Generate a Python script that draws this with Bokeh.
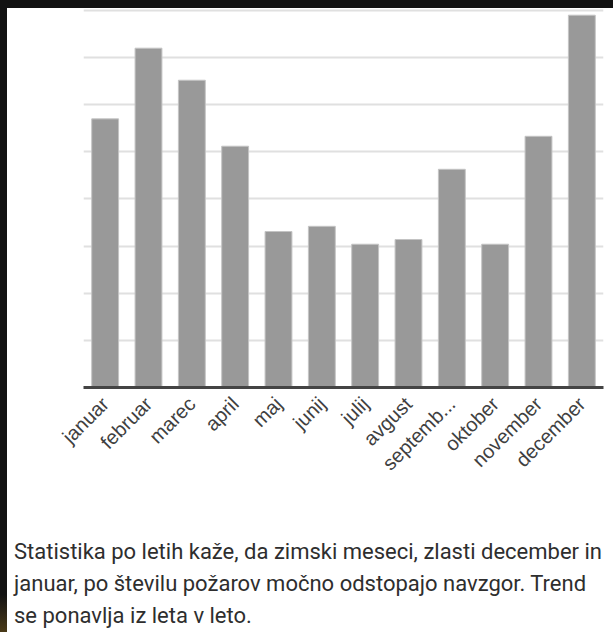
import math
from bokeh.plotting import figure
from bokeh.models import Div, FactorRange, Range1d, FixedTicker
from bokeh.layouts import column, row
from bokeh.embed import file_html
from bokeh.resources import INLINE

# ---- data ----
months = ["januar", "februar", "marec", "april", "maj", "junij",
          "julij", "avgust", "september", "oktober", "november", "december"]
tick_labels = ["januar", "februar", "marec", "april", "maj", "junij",
               "julij", "avgust", "septemb...", "oktober", "november", "december"]
fires = [57, 72, 65.2, 51.2, 33.1, 34.2, 30.4, 31.4, 46.3, 30.4, 53.3, 79]
grid_ticks = [0, 10, 20, 30, 40, 50, 60, 70, 80]
caption_lines = [
    "Statistika po letih kaže, da zimski meseci, zlasti december in",
    "januar, po številu požarov močno odstopajo navzgor. Trend",
    "se ponavlja iz leta v leto.",
]

# the axis shows the (truncated) tick labels as the category factors
p = figure(x_range=FactorRange(factors=tick_labels, range_padding=0),
           y_range=Range1d(0, 80.42),
           width=606, height=528,
           output_backend="svg", toolbar_location=None,
           min_border_left=76, min_border_right=10,
           min_border_top=0, min_border_bottom=149)
p.outline_line_color = None
p.background_fill_color = "white"
p.border_fill_color = "white"

p.vbar(x=tick_labels, top=fires, bottom=0, width=0.62,
       fill_color="#999999", line_color="#c4c4c4", line_width=1)

p.xgrid.visible = False
p.yaxis.visible = False
p.ygrid.ticker = FixedTicker(ticks=grid_ticks)
p.ygrid.grid_line_color = "#e0e0e0"
p.ygrid.grid_line_width = 2

ax = p.xaxis[0]
ax.axis_line_color = "#444444"
ax.axis_line_width = 3
ax.major_tick_line_color = None
ax.minor_tick_line_color = None
ax.major_label_orientation = math.pi / 4
ax.major_label_text_font = "Liberation Sans"
ax.major_label_text_font_size = "20px"
ax.major_label_text_color = "#404040"
ax.major_label_standoff = 7

caption = Div(text="<br>".join(caption_lines), width=606, height=96, margin=0,
              styles={"font-family": "Roboto", "font-size": "22px", "color": "#2e2e2e",
                      "line-height": "32px", "white-space": "nowrap",
                      "padding-left": "7px", "background-color": "white",
                      "box-sizing": "border-box"})

top_strip = Div(width=613, height=8, margin=0, styles={"background-color": "#121212"})
left_strip = Div(width=7, height=624, margin=0,
                 styles={"background": "linear-gradient(to bottom, #121212 0%, #121212 94%, #4a3a18 100%)"})
layout = column(top_strip, row(left_strip, column(p, caption, spacing=0), spacing=0), spacing=0)

open("out.html", "w").write(file_html(layout, INLINE))
